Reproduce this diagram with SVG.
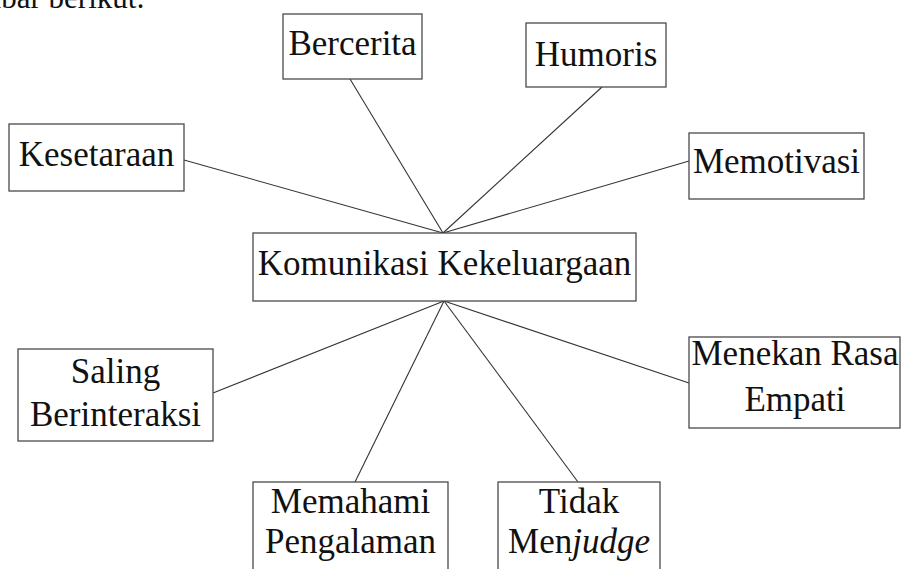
<svg xmlns="http://www.w3.org/2000/svg" width="904" height="569" viewBox="0 0 904 569">
<style>
.box{fill:#fff;stroke:#4a4a4a;stroke-width:1.3}
.t{font-family:"Liberation Serif","Times New Roman",serif;font-size:35px;fill:#111;text-anchor:middle}
.edge{stroke:#333;stroke-width:1.1;fill:none}
</style>
<rect width="904" height="569" fill="#fff"/>
<text x="145" y="8" class="t" style="text-anchor:end;font-size:31px">gambar berikut:</text>
<g id="connectors">
<line class="edge" x1="184" y1="160" x2="443" y2="233"/>
<line class="edge" x1="350" y1="79" x2="443" y2="233"/>
<line class="edge" x1="602" y1="87" x2="443" y2="233"/>
<line class="edge" x1="689" y1="161" x2="443" y2="233"/>
<line class="edge" x1="444" y1="301" x2="213" y2="393"/>
<line class="edge" x1="444" y1="301" x2="689" y2="383"/>
<line class="edge" x1="444" y1="301" x2="355" y2="482"/>
<line class="edge" x1="444" y1="301" x2="578" y2="482"/>
</g>
<g id="kesetaraan"><rect class="box" x="9" y="124" width="175" height="67"/><text class="t" x="96.5" y="166">Kesetaraan</text></g>
<g id="bercerita"><rect class="box" x="283" y="14" width="139" height="65"/><text class="t" x="352.5" y="55">Bercerita</text></g>
<g id="humoris"><rect class="box" x="526" y="23" width="140" height="64"/><text class="t" x="596" y="66">Humoris</text></g>
<g id="memotivasi"><rect class="box" x="689" y="133" width="175" height="66"/><text class="t" x="776.5" y="173">Memotivasi</text></g>
<g id="komunikasi"><rect class="box" x="253" y="233" width="383" height="68"/><text class="t" x="444.5" y="275">Komunikasi Kekeluargaan</text></g>
<g id="saling"><rect class="box" x="18" y="349" width="195" height="92"/><text class="t" x="115.5" y="383">Saling</text><text class="t" x="115.5" y="426">Berinteraksi</text></g>
<g id="menekan"><rect class="box" x="689" y="337" width="211" height="91"/><text class="t" x="795" y="365">Menekan Rasa</text><text class="t" x="795" y="411">Empati</text></g>
<g id="memahami"><rect class="box" x="253" y="482" width="195" height="92"/><text class="t" x="350.5" y="513">Memahami</text><text class="t" x="350.5" y="553">Pengalaman</text></g>
<g id="tidak"><rect class="box" x="498" y="482" width="162" height="92"/><text class="t" x="579" y="513">Tidak</text><text class="t" x="579" y="553">Men<tspan font-style="italic">judge</tspan></text></g>
</svg>
